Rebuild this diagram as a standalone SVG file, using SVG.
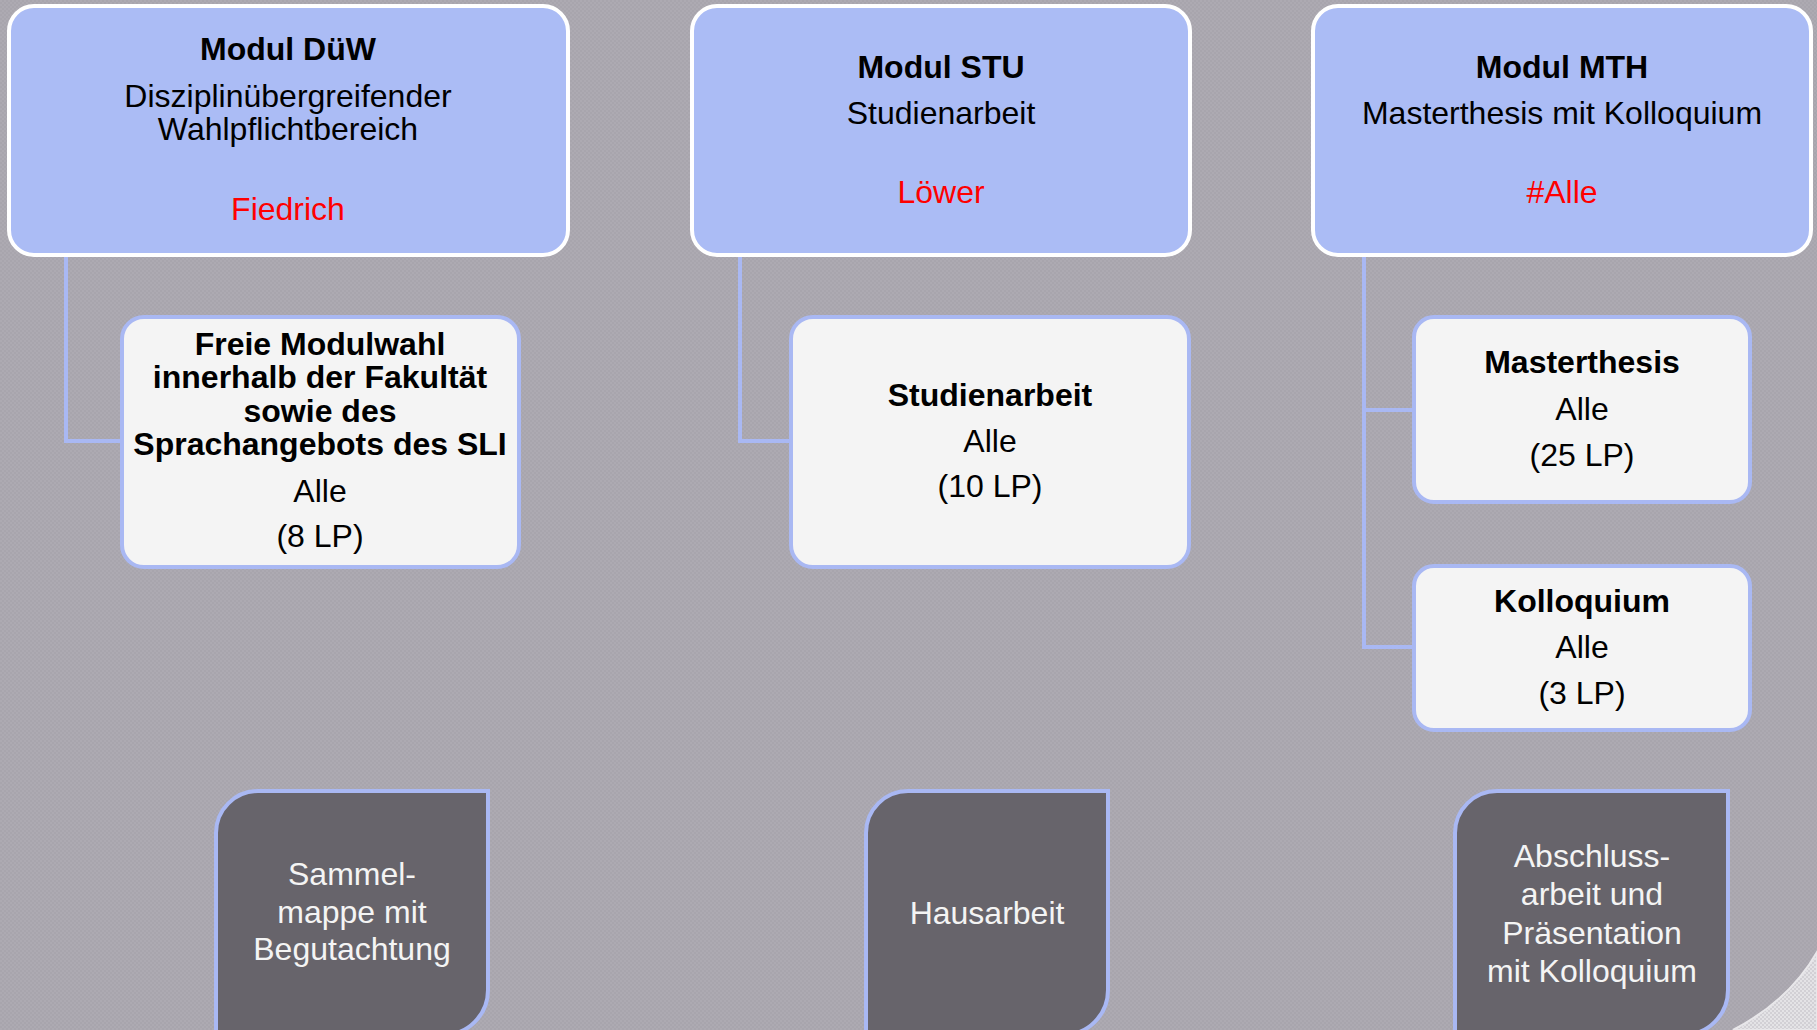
<svg xmlns="http://www.w3.org/2000/svg" width="1817" height="1030" viewBox="0 0 1817 1030">
<defs>
<pattern id="chk" width="4" height="4" patternUnits="userSpaceOnUse">
<rect width="4" height="4" fill="#a8a5ad"/>
<rect width="2" height="2" fill="#adaab2"/>
<rect x="2" y="2" width="2" height="2" fill="#adaab2"/>
</pattern>
<pattern id="chk2" width="4" height="4" patternUnits="userSpaceOnUse">
<rect width="4" height="4" fill="#d2d0d5"/>
<rect width="2" height="2" fill="#e4e3e6"/>
<rect x="2" y="2" width="2" height="2" fill="#e4e3e6"/>
</pattern>
<style>
text{font-family:"Liberation Sans",Arial,sans-serif;font-size:32px;text-anchor:middle;fill:#000}
.b{font-weight:bold}
.red{fill:#ff0000}
.w{fill:#f4f4f4}
.top{fill:#abbcf5;stroke:#ffffff;stroke-width:4}
.child{fill:#f4f4f4;stroke:#a9b8f3;stroke-width:4}
.dark{fill:#67646b;stroke:#a9b8f3;stroke-width:4}
.conn{fill:none;stroke:#a9b8f3;stroke-width:4}
</style>
</defs>
<rect width="1817" height="1030" fill="url(#chk)"/>
<path d="M1733 1030 Q1790 1000 1817 952 L1817 1030 Z" fill="url(#chk2)" stroke="#e8e7ea" stroke-width="2"/>

<g id="connectors">
<path class="conn" d="M66 255 V441 H122"/>
<path class="conn" d="M740 255 V441 H791"/>
<path class="conn" d="M1364 255 V647 H1414"/>
<path class="conn" d="M1364 410 H1414"/>
</g>

<g id="modul-duew">
<rect class="top" x="9" y="6" width="559" height="249" rx="25"/>
<text class="b" x="288" y="60">Modul DüW</text>
<text x="288" y="107">Disziplinübergreifender</text>
<text x="288" y="140">Wahlpflichtbereich</text>
<text class="red" x="288" y="220">Fiedrich</text>
</g>
<g id="modul-stu">
<rect class="top" x="692" y="6" width="498" height="249" rx="25"/>
<text class="b" x="941" y="78">Modul STU</text>
<text x="941" y="124">Studienarbeit</text>
<text class="red" x="941" y="203">Löwer</text>
</g>
<g id="modul-mth">
<rect class="top" x="1313" y="6" width="498" height="249" rx="25"/>
<text class="b" x="1562" y="78">Modul MTH</text>
<text x="1562" y="124">Masterthesis mit Kolloquium</text>
<text class="red" x="1562" y="203">#Alle</text>
</g>

<g id="freie-modulwahl">
<rect class="child" x="122" y="317" width="397" height="250" rx="22"/>
<text class="b" x="320" y="355">Freie Modulwahl</text>
<text class="b" x="320" y="388">innerhalb der Fakultät</text>
<text class="b" x="320" y="422">sowie des</text>
<text class="b" x="320" y="455">Sprachangebots des SLI</text>
<text x="320" y="502">Alle</text>
<text x="320" y="547">(8 LP)</text>
</g>
<g id="studienarbeit">
<rect class="child" x="791" y="317" width="398" height="250" rx="22"/>
<text class="b" x="990" y="406">Studienarbeit</text>
<text x="990" y="452">Alle</text>
<text x="990" y="497">(10 LP)</text>
</g>
<g id="masterthesis">
<rect class="child" x="1414" y="317" width="336" height="185" rx="20"/>
<text class="b" x="1582" y="373">Masterthesis</text>
<text x="1582" y="420">Alle</text>
<text x="1582" y="466">(25 LP)</text>
</g>
<g id="kolloquium">
<rect class="child" x="1414" y="566" width="336" height="164" rx="20"/>
<text class="b" x="1582" y="612">Kolloquium</text>
<text x="1582" y="658">Alle</text>
<text x="1582" y="704">(3 LP)</text>
</g>

<g id="pruefung-duew">
<path class="dark" d="M216 1035 V833 A42 42 0 0 1 258 791 H488 V990 A45 45 0 0 1 443 1035 Z"/>
<text class="w" x="352" y="885">Sammel-</text>
<text class="w" x="352" y="923">mappe mit</text>
<text class="w" x="352" y="960">Begutachtung</text>
</g>
<g id="pruefung-stu">
<path class="dark" d="M866 1035 V833 A42 42 0 0 1 908 791 H1108 V990 A45 45 0 0 1 1063 1035 Z"/>
<text class="w" x="987" y="924">Hausarbeit</text>
</g>
<g id="pruefung-mth">
<path class="dark" d="M1455 1035 V833 A42 42 0 0 1 1497 791 H1728 V990 A45 45 0 0 1 1683 1035 Z"/>
<text class="w" x="1592" y="867">Abschluss-</text>
<text class="w" x="1592" y="905">arbeit und</text>
<text class="w" x="1592" y="944">Präsentation</text>
<text class="w" x="1592" y="982">mit Kolloquium</text>
</g>
</svg>
